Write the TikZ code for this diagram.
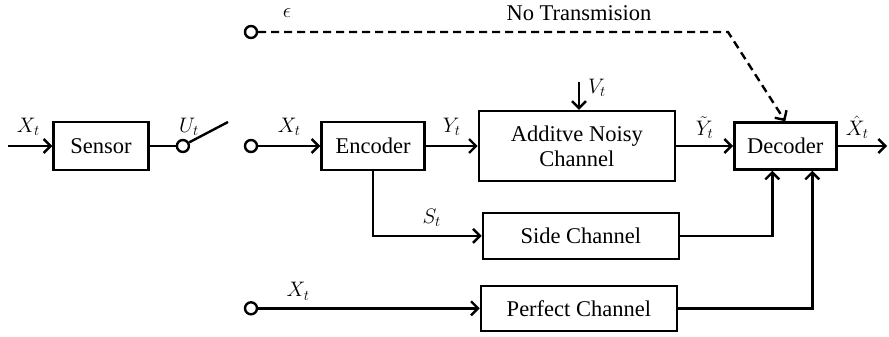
\documentclass[tikz,border=0pt]{standalone}
\usepackage{fix-cm}
\usepackage{fontspec}
\setmainfont{Liberation Serif}
\usetikzlibrary{positioning,arrows.meta}

\begin{document}
\begin{tikzpicture}[
  x=1pt, y=-1pt,
  line width=2.4pt,
  font=\fontsize{22.5}{25}\selectfont,
  block/.style={draw, align=center, inner sep=0pt},
  port/.style={draw, circle, fill=white, inner sep=0pt, minimum size=12pt},
  arrow/.style={-{Straight Barb[length=7pt,width=14pt]}},
  lbl/.style={inner sep=0pt, font=\fontsize{21}{24}\selectfont}
]
\useasboundingbox (0,0) rectangle (889,337);

\node[block, minimum width=95pt, minimum height=48pt] (sensor) at (101,146) {Sensor};
\node[port, right=26pt of sensor] (swA) {};
\coordinate (swtip) at (228,122);
\node[port] (swB) at (251,146) {};
\node[block, minimum width=103pt, minimum height=48pt] (encoder) at (373,146) {Encoder};
\node[block, minimum width=196pt, minimum height=70pt, right=52pt of encoder] (noisy) {Additve Noisy\\Channel};
\node[block, minimum width=102pt, minimum height=47pt, right=57pt of noisy] (decoder) {Decoder};
\node[block, minimum width=196pt, minimum height=46pt, below=29.5pt of noisy, xshift=4pt] (side) {Side Channel};
\node[block, minimum width=196pt, minimum height=45pt, below=24.5pt of side, xshift=-2pt] (perfect) {Perfect Channel};
\node[port] (eps) at (251,32) {};
\node[port] (xport) at (swB |- perfect.west) {};

\coordinate (xin) at (8,146);
\coordinate (xout) at (887,146);
\coordinate (vin) at (579,82);
\coordinate (bend) at (728,32);
\coordinate (dA) at ([xshift=-13pt]decoder.south);
\coordinate (dB) at ([xshift=27pt]decoder.south);

\draw[arrow] (xin) -- node[lbl, above=9pt, pos=.46] (lXs) {$X_t$} (sensor);
\draw (sensor) -- (swA);
\draw (swA.30) -- (swtip);
\node[lbl] (lUt) at (189,127) {$U_t$};
\draw[arrow] (swB) -- node[lbl, above=9pt] (lXe) {$X_t$} (encoder);
\draw[arrow] (encoder) -- node[lbl, above=9pt] (lYt) {$Y_t$} (noisy);
\draw[arrow] (vin) -- node[lbl, right=8pt, pos=.2] (lVt) {$V_t$} (vin |- noisy.north);
\draw[arrow] (noisy) -- node[lbl, above=6pt] (lYh) {$\tilde{Y}_t$} (decoder);
\draw[arrow] (decoder) -- node[lbl, above=6pt, pos=.4] (lXh) {$\hat{X}_t$} (xout);
\draw[arrow] (encoder.south) |- node[lbl, above=8pt, pos=.77] (lSt) {$S_t$} (side.west);
\draw[arrow] (side.east) -| (dA);
\draw[arrow] (xport) -- node[lbl, above=7pt, pos=.18] (lXp) {$X_t$} (perfect);
\draw[arrow] (perfect.east) -| (dB);
\draw[arrow, dash pattern=on 8pt off 5pt] (eps) -- (bend) -- (decoder.north);
\node[lbl] (leps) at (287,13) {$\epsilon$};
\node (lnot) at (579,13) {No Transmision};
\end{tikzpicture}
\end{document}
